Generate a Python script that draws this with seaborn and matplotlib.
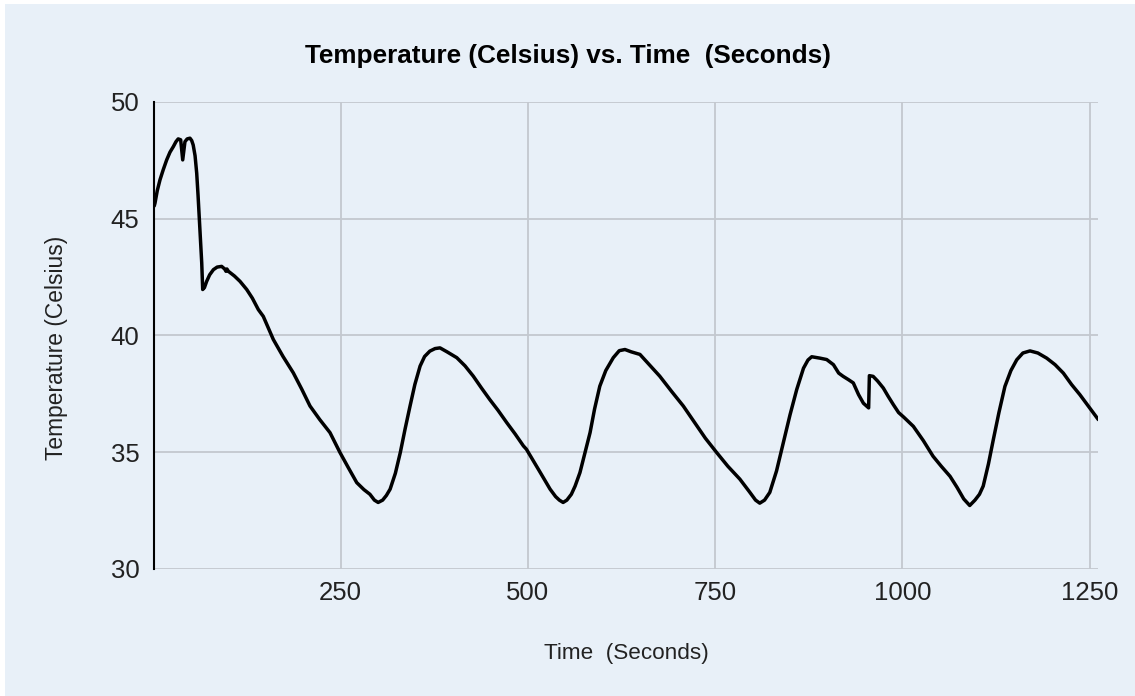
import numpy as np
import pandas as pd
import matplotlib
matplotlib.use("Agg")
import matplotlib.pyplot as plt
import seaborn as sns

# Data
time_s = [1, 2, 5, 8.7, 13, 17.6, 22, 26.5, 30, 33, 36.3, 39, 42, 45, 48.7, 51, 53,
          55.5, 57.7, 59.5, 61, 62.8, 64.4, 65.7, 68, 71, 75, 80, 85, 91, 95, 96.8,
          98, 100, 108, 115.5, 124.5, 132, 140, 146.6, 153, 160, 173, 186.7, 198,
          209, 222, 235.7, 249, 260, 271.4, 281, 289, 295, 300, 306, 311, 316, 323,
          329.6, 336, 342.6, 349, 356, 362, 369, 376, 382.6, 392, 405, 416, 427,
          438, 449, 460, 471.7, 483, 494, 498, 506, 516, 529.6, 537, 542, 547, 552,
          558, 563, 569.5, 576, 583, 589, 596, 604, 614, 622, 629.6, 638, 649.6,
          662, 676, 692, 707.5, 722, 737, 752, 767, 783, 796, 804, 809.6, 816, 823,
          832, 841, 850, 859, 868, 874, 879, 890, 899, 908, 915, 921, 928, 934.5,
          941.5, 948, 955, 956, 961, 967, 974.6, 981, 988, 995, 1002, 1014.7, 1028,
          1041, 1052, 1063.7, 1073, 1082, 1090, 1097, 1103, 1108, 1115, 1121.5,
          1129, 1137, 1145, 1152.8, 1161, 1170.5, 1181, 1192.8, 1204, 1215, 1226,
          1237, 1249, 1261.7]
temp_c = [45.55, 45.67, 46.2, 46.67, 47.1, 47.52, 47.85, 48.09, 48.3, 48.42, 48.38,
          47.52, 48.30, 48.42, 48.45, 48.35, 48.16, 47.7, 46.95, 46.0, 45.1, 44.1,
          43.11, 41.97, 42.05, 42.32, 42.6, 42.82, 42.93, 42.96, 42.85, 42.75,
          42.85, 42.75, 42.55, 42.32, 41.97, 41.6, 41.11, 40.82, 40.35, 39.83,
          39.1, 38.4, 37.7, 36.98, 36.4, 35.84, 34.99, 34.35, 33.7, 33.4, 33.2,
          32.95, 32.85, 32.95, 33.15, 33.42, 34.1, 34.99, 36.0, 36.98, 37.9, 38.69,
          39.1, 39.33, 39.44, 39.47, 39.3, 39.05, 38.7, 38.26, 37.75, 37.26, 36.8,
          36.27, 35.78, 35.27, 35.13, 34.70, 34.16, 33.42, 33.1, 32.95, 32.85, 32.95,
          33.2, 33.55, 34.13, 34.95, 35.84, 36.85, 37.83, 38.5, 39.05, 39.35, 39.4,
          39.3, 39.19, 38.75, 38.26, 37.6, 36.98, 36.3, 35.6, 34.99, 34.4, 33.85,
          33.3, 32.95, 32.82, 32.95, 33.28, 34.2, 35.41, 36.6, 37.69, 38.6, 38.95,
          39.09, 39.03, 38.97, 38.75, 38.39, 38.25, 38.11, 37.97, 37.47, 37.1,
          36.9, 38.28, 38.25, 38.05, 37.75, 37.4, 37.04, 36.7, 36.5, 36.11, 35.5,
          34.83, 34.4, 33.97, 33.5, 33.0, 32.72, 32.95, 33.2, 33.55, 34.5, 35.54,
          36.7, 37.82, 38.5, 38.96, 39.25, 39.34, 39.25, 39.03, 38.75, 38.39, 37.9,
          37.47, 36.95, 36.40]

x_ticks = [250, 500, 750, 1000, 1250]
y_ticks = [30, 35, 40, 45, 50]

df = pd.DataFrame({"Time": time_s, "Temp": temp_c})

sns.set_theme(style="whitegrid")
plt.rcParams["font.family"] = ["Liberation Sans", "DejaVu Sans"]

bg = "#e8f0f8"
fig = plt.figure(figsize=(11.35, 6.96), dpi=100, facecolor="white")
# light blue panel with a thin white margin at top/left
fig.patches.append(plt.Rectangle((5 / 1135, 0), 1, 1 - 4 / 696, transform=fig.transFigure,
                                 facecolor=bg, edgecolor="none", zorder=-10))
ax = fig.add_axes([153.5 / 1135, 1 - 569 / 696, (1098.3 - 153.5) / 1135, (569 - 102) / 696])
ax.set_facecolor(bg)

sns.lineplot(data=df, x="Time", y="Temp", ax=ax, color="black", linewidth=2.5,
             sort=False, estimator=None)

ax.set_xlim(0, 1261.7)
ax.set_ylim(30, 50)
ax.set_xticks(x_ticks)
ax.set_yticks(y_ticks)
ax.grid(True, color="#c3c8cf", linewidth=1.3)
ax.tick_params(axis="both", length=0, labelsize=18.5, colors="#222222")
ax.tick_params(axis="x", pad=9)
ax.tick_params(axis="y", pad=10)

for side in ["top", "right", "bottom"]:
    ax.spines[side].set_visible(False)
ax.spines["left"].set_color("black")
ax.spines["left"].set_linewidth(1.5)
ax.spines["left"].set_zorder(5)

ax.set_xlabel("Time  (Seconds)", fontsize=16.2, color="#222222", labelpad=27)
ax.set_ylabel("Temperature (Celsius)", fontsize=16.4, color="#222222", labelpad=31, y=0.473)
fig.text(0.5, 1 - 56 / 696, "Temperature (Celsius) vs. Time  (Seconds)", ha="center",
         va="center", fontsize=18.8, fontweight="bold", color="black")

fig.savefig("out.png", dpi=100, facecolor=fig.get_facecolor())
